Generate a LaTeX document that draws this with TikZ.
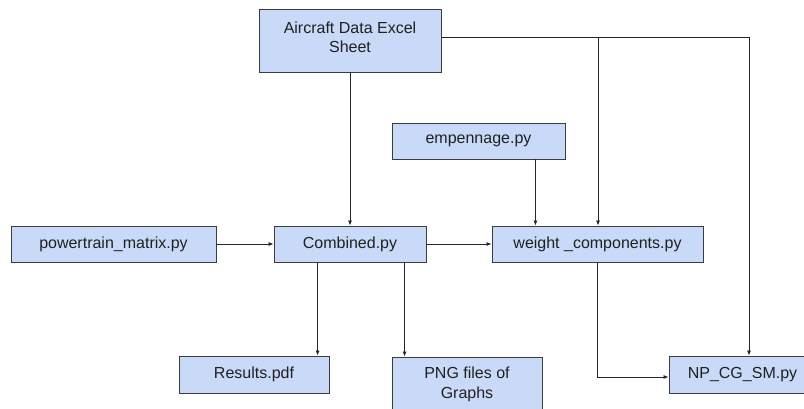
\documentclass[tikz,border=0pt]{standalone}
\usepackage{fontspec}
\setmainfont{Liberation Sans}
\usetikzlibrary{arrows.meta,shadows,calc}
\definecolor{boxfill}{HTML}{C9DAF8}
\definecolor{boxline}{HTML}{3C3C3C}
\definecolor{txt}{HTML}{202020}
\begin{document}
\begin{tikzpicture}[x=1pt,y=-1pt,
  box/.style={draw=boxline,line width=0.9pt,fill=boxfill,rectangle,inner sep=0pt,
    font=\fontsize{16}{20}\selectfont,text=txt,align=center,
    drop shadow={shadow xshift=1pt,shadow yshift=-1pt,fill=black!45,opacity=1}},
  arr/.style={draw=black!85,line width=0.8pt,-{Latex[length=5pt,width=4pt]}},
  ln/.style={draw=black!85,line width=0.8pt}]
\useasboundingbox (0,0) rectangle (804,408);
\fill[white] (0,0) rectangle (804,408);
\clip (0,0) rectangle (804,408);
\node[box,minimum width=182pt,minimum height=63pt] (air) at (350,40.5) {Aircraft Data Excel\\[-1pt]Sheet\\[-14pt]};
\node[box,minimum width=173pt,minimum height=36pt] (emp) at (478.5,141) {empennage.py};
\node[box,minimum width=205pt,minimum height=36pt] (pow) at (113.5,244) {powertrain\_matrix.py};
\node[box,minimum width=152pt,minimum height=36pt] (comb) at (350,244) {Combined.py};
\node[box,minimum width=211pt,minimum height=36pt] (wt) at (597.5,244) {weight \_components.py};
\node[box,minimum width=150pt,minimum height=37pt] (res) at (254,374.5) {Results.pdf};
\node[box,minimum width=150pt,minimum height=55pt] (png) at (467,384.5) {PNG files of\\Graphs};
\node[box,minimum width=147pt,minimum height=37pt] (np) at (742.5,374.5) {NP\_CG\_SM.py};
\coordinate (j1) at (598,37);
\coordinate (j2) at (749,37);
% connectors
\draw[arr] (air.south) -- (comb.north);
\draw[ln] (air.east |- j2) -- (j2);
\draw[arr] (j2) -- (j2 |- np.north);
\draw[arr] (j1) -- (j1 |- wt.north);
\draw[arr] ([xshift=-30pt]emp.south east) -- ([xshift=-30pt]emp.south east |- wt.north);
\draw[arr] (pow.east) -- (comb.west);
\draw[arr] (comb.east) -- (wt.west);
\draw[arr] ([xshift=44pt]comb.south west) -- ([xshift=44pt]comb.south west |- res.north);
\draw[arr] ([xshift=131pt]comb.south west) -- ([xshift=131pt]comb.south west |- png.north);
\draw[arr] (wt.south) -- ([yshift=-2.5pt]wt.south |- np.west) -- ([yshift=-2.5pt]np.west);
\end{tikzpicture}
\end{document}
